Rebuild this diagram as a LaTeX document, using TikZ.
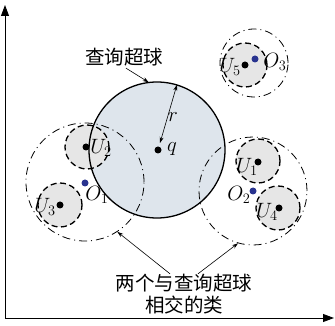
\documentclass[tikz,border=0pt]{standalone}
\usepackage{fontspec}
\newfontfamily\cjk{Noto Sans CJK SC}
\usetikzlibrary{arrows.meta,calc}
\definecolor{qfill}{HTML}{DEE5EC}
\definecolor{ufill}{HTML}{E6E6E6}
\definecolor{odot}{HTML}{28338F}
\begin{document}
\begin{tikzpicture}[x=1pt,y=-1pt,
  axis/.style={line width=0.9pt,-{Triangle[length=11pt,width=8pt]}},
  qsphere/.style={circle,inner sep=0pt,minimum size=136pt},
  ucirc/.style={circle,inner sep=0pt,minimum size=44pt,draw,fill=ufill,line width=1.3pt,dash pattern=on 6pt off 3.5pt},
  ocirc/.style={circle,inner sep=0pt,draw,line width=0.8pt,dash pattern=on 8pt off 4pt on 1pt off 4pt},
  bdot/.style={circle,fill=black,inner sep=0pt,minimum size=7pt},
  odotst/.style={circle,fill=odot,inner sep=0pt,minimum size=7pt},
  mlabel/.style={inner sep=0pt,font=\fontsize{20}{22}\selectfont},
  clabel/.style={inner sep=1pt,align=center,font=\cjk\fontsize{19.5}{22}\selectfont},
  pointer/.style={line width=0.6pt,-{Stealth[length=6pt,width=4pt]}}
]
\useasboundingbox (0,0) rectangle (335,326);
% axes
\coordinate (orig) at (5,318);
\coordinate (ytip) at (5,5);
\coordinate (xtip) at (334,318);
\draw[axis] (orig) -- (ytip);
\draw[axis] (orig) -- (xtip);
% query sphere fill
\fill[qfill] (157,150) circle[radius=68pt];
\node[qsphere] (big) at (157,150) {};
% U circles
\node[ucirc] (u2) at (87,147) {};
\node[ucirc] (u3) at (60,205) {};
\node[ucirc] (u1) at (258,161) {};
\node[ucirc] (u4) at (278,208) {};
\node[ucirc] (u5) at (245,65) {};
% query sphere outline
\draw[line width=1.3pt] (157,150) circle[radius=68pt];
% cluster circles
\node[ocirc,minimum size=118pt] (c1) at (85,182) {};
\node[ocirc,minimum size=108pt] (c2) at (253,191) {};
\node[ocirc,minimum size=68pt] (c3) at (254,63) {};
% dots
\node[bdot] (q) at (158,150) {};
\node[bdot] (d2) at (86,147) {};
\node[bdot] (d3) at (60,205) {};
\node[bdot] (d1) at (258,162) {};
\node[bdot] (d4) at (279,208) {};
\node[bdot] (d5) at (245,65) {};
\node[odotst] (o1) at (85,183) {};
\node[odotst] (o2) at (253,191) {};
\node[odotst] (o3) at (255,59) {};
% math labels
\node[mlabel] (lq) at (172,149) {$q$};
\node[mlabel] (lr) at (173,117) {$r$};
\node[mlabel] (lu2) at (101,148) {$U_2$};
\node[mlabel] (lu3) at (45,207) {$U_3$};
\node[mlabel] (lo1) at (97,195) {$O_1$};
\node[mlabel] (lu1) at (247,167) {$U_1$};
\node[mlabel] (lo2) at (239,195) {$O_2$};
\node[mlabel] (lu4) at (267,212) {$U_4$};
\node[mlabel] (lu5) at (230,67) {$U_5$};
\node[mlabel] (lo3) at (275,62) {$O_3$};
% radius arrow
\draw[line width=0.6pt,{Stealth[length=6pt,width=4pt]}-{Stealth[length=6pt,width=4pt]}] ($(q)+(2,-7)$) -- (big.73);
% labels
\node[clabel] (ql) at (124,57) {查询超球};
\draw[pointer] ($(ql.south)+(2,1)$) -- (big.97);
\node[clabel] (bl) at (184,294) {两个与查询超球\\相交的类};
\draw[pointer] ($(bl.north)+(-14,1)$) -- (c1.-57);
\draw[pointer] ($(bl.north)+(14,1)$) -- (c2.-106);
\end{tikzpicture}
\end{document}
